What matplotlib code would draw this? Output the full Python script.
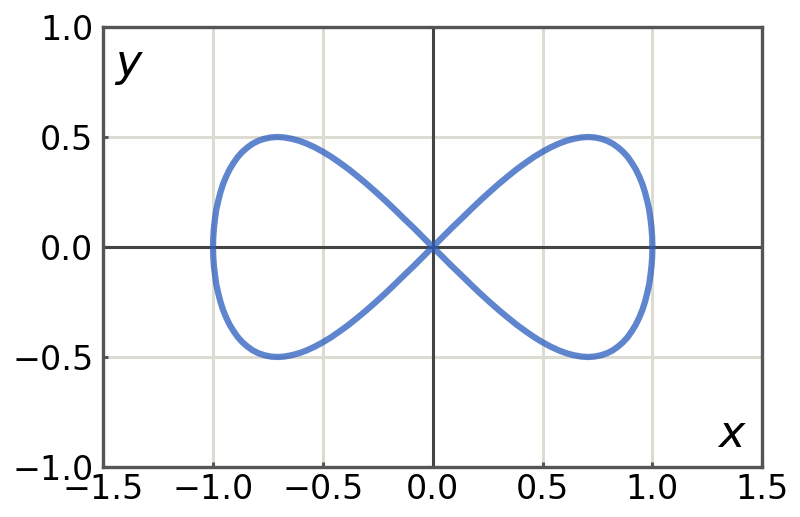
import matplotlib

matplotlib.use("Agg")

import matplotlib.pyplot as plt


# points, going round once from (1, 0)
x_vals = [
    1.000, 0.999, 0.996, 0.991, 0.985, 0.976, 0.966, 0.954, 0.940, 0.924,
    0.906, 0.887, 0.866, 0.843, 0.819, 0.793, 0.766, 0.737, 0.707, 0.676,
    0.643, 0.609, 0.574, 0.537, 0.500, 0.462, 0.423, 0.383, 0.342, 0.301,
    0.259, 0.216, 0.174, 0.131, 0.087, 0.044, 0.000,
    -0.044, -0.087, -0.131, -0.174, -0.216, -0.259, -0.301, -0.342, -0.383,
    -0.423, -0.462, -0.500, -0.537, -0.574, -0.609, -0.643, -0.676, -0.707,
    -0.737, -0.766, -0.793, -0.819, -0.843, -0.866, -0.887, -0.906, -0.924,
    -0.940, -0.954, -0.966, -0.976, -0.985, -0.991, -0.996, -0.999, -1.000,
    -0.999, -0.996, -0.991, -0.985, -0.976, -0.966, -0.954, -0.940, -0.924,
    -0.906, -0.887, -0.866, -0.843, -0.819, -0.793, -0.766, -0.737, -0.707,
    -0.676, -0.643, -0.609, -0.574, -0.537, -0.500, -0.462, -0.423, -0.383,
    -0.342, -0.301, -0.259, -0.216, -0.174, -0.131, -0.087, -0.044, 0.000,
    0.044, 0.087, 0.131, 0.174, 0.216, 0.259, 0.301, 0.342, 0.383,
    0.423, 0.462, 0.500, 0.537, 0.574, 0.609, 0.643, 0.676, 0.707,
    0.737, 0.766, 0.793, 0.819, 0.843, 0.866, 0.887, 0.906, 0.924,
    0.940, 0.954, 0.966, 0.976, 0.985, 0.991, 0.996, 0.999, 1.000,
]
y_vals = [
    0.000, 0.044, 0.087, 0.129, 0.171, 0.211, 0.250, 0.287, 0.321, 0.354,
    0.383, 0.410, 0.433, 0.453, 0.470, 0.483, 0.492, 0.498, 0.500, 0.498,
    0.492, 0.483, 0.470, 0.453, 0.433, 0.410, 0.383, 0.354, 0.321, 0.287,
    0.250, 0.211, 0.171, 0.129, 0.087, 0.044, 0.000,
    -0.044, -0.087, -0.129, -0.171, -0.211, -0.250, -0.287, -0.321, -0.354,
    -0.383, -0.410, -0.433, -0.453, -0.470, -0.483, -0.492, -0.498, -0.500,
    -0.498, -0.492, -0.483, -0.470, -0.453, -0.433, -0.410, -0.383, -0.354,
    -0.321, -0.287, -0.250, -0.211, -0.171, -0.129, -0.087, -0.044, 0.000,
    0.044, 0.087, 0.129, 0.171, 0.211, 0.250, 0.287, 0.321, 0.354,
    0.383, 0.410, 0.433, 0.453, 0.470, 0.483, 0.492, 0.498, 0.500,
    0.498, 0.492, 0.483, 0.470, 0.453, 0.433, 0.410, 0.383, 0.354,
    0.321, 0.287, 0.250, 0.211, 0.171, 0.129, 0.087, 0.044, 0.000,
    -0.044, -0.087, -0.129, -0.171, -0.211, -0.250, -0.287, -0.321, -0.354,
    -0.383, -0.410, -0.433, -0.453, -0.470, -0.483, -0.492, -0.498, -0.500,
    -0.498, -0.492, -0.483, -0.470, -0.453, -0.433, -0.410, -0.383, -0.354,
    -0.321, -0.287, -0.250, -0.211, -0.171, -0.129, -0.087, -0.044, 0.000,
]
x_ticks = [-1.5, -1.0, -0.5, 0.0, 0.5, 1.0, 1.5]
y_ticks = [-1.0, -0.5, 0.0, 0.5, 1.0]

spine_color = "#555555"
grid_color = "#dcdcd2"

fig = plt.figure(figsize=(8.0, 5.17), dpi=100)
ax = fig.add_axes([0.129, 0.0967, 0.8238, 0.8511])

ax.set_xlim(-1.5, 1.5)
ax.set_ylim(-1.0, 1.0)
ax.set_xticks(x_ticks)
ax.set_yticks(y_ticks)
ax.grid(True, color=grid_color, linewidth=2.2, zorder=0)
ax.set_axisbelow(True)

ax.axhline(0, color="#444444", linewidth=2.2, zorder=1)
ax.axvline(0, color="#444444", linewidth=2.2, zorder=1)

ax.plot(x_vals, y_vals, color="#2a5cbf", alpha=0.75, linewidth=4.5,
        solid_joinstyle="round", solid_capstyle="round", zorder=2)

for spine in ax.spines.values():
    spine.set_color(spine_color)
    spine.set_linewidth(2.4)

ax.tick_params(direction="in", length=3.5, width=2.2, color=spine_color,
               labelsize=24, top=False, right=False)
ax.tick_params(axis="y", pad=7)
ax.tick_params(axis="x", pad=4)

ax.text(0.953, 0.025, "x", transform=ax.transAxes, fontsize=32,
        style="italic", ha="center", va="bottom")
ax.text(0.018, 0.965, "y", transform=ax.transAxes, fontsize=32,
        style="italic", ha="left", va="top")

fig.savefig("out.png", dpi=100)
plt.close(fig)
